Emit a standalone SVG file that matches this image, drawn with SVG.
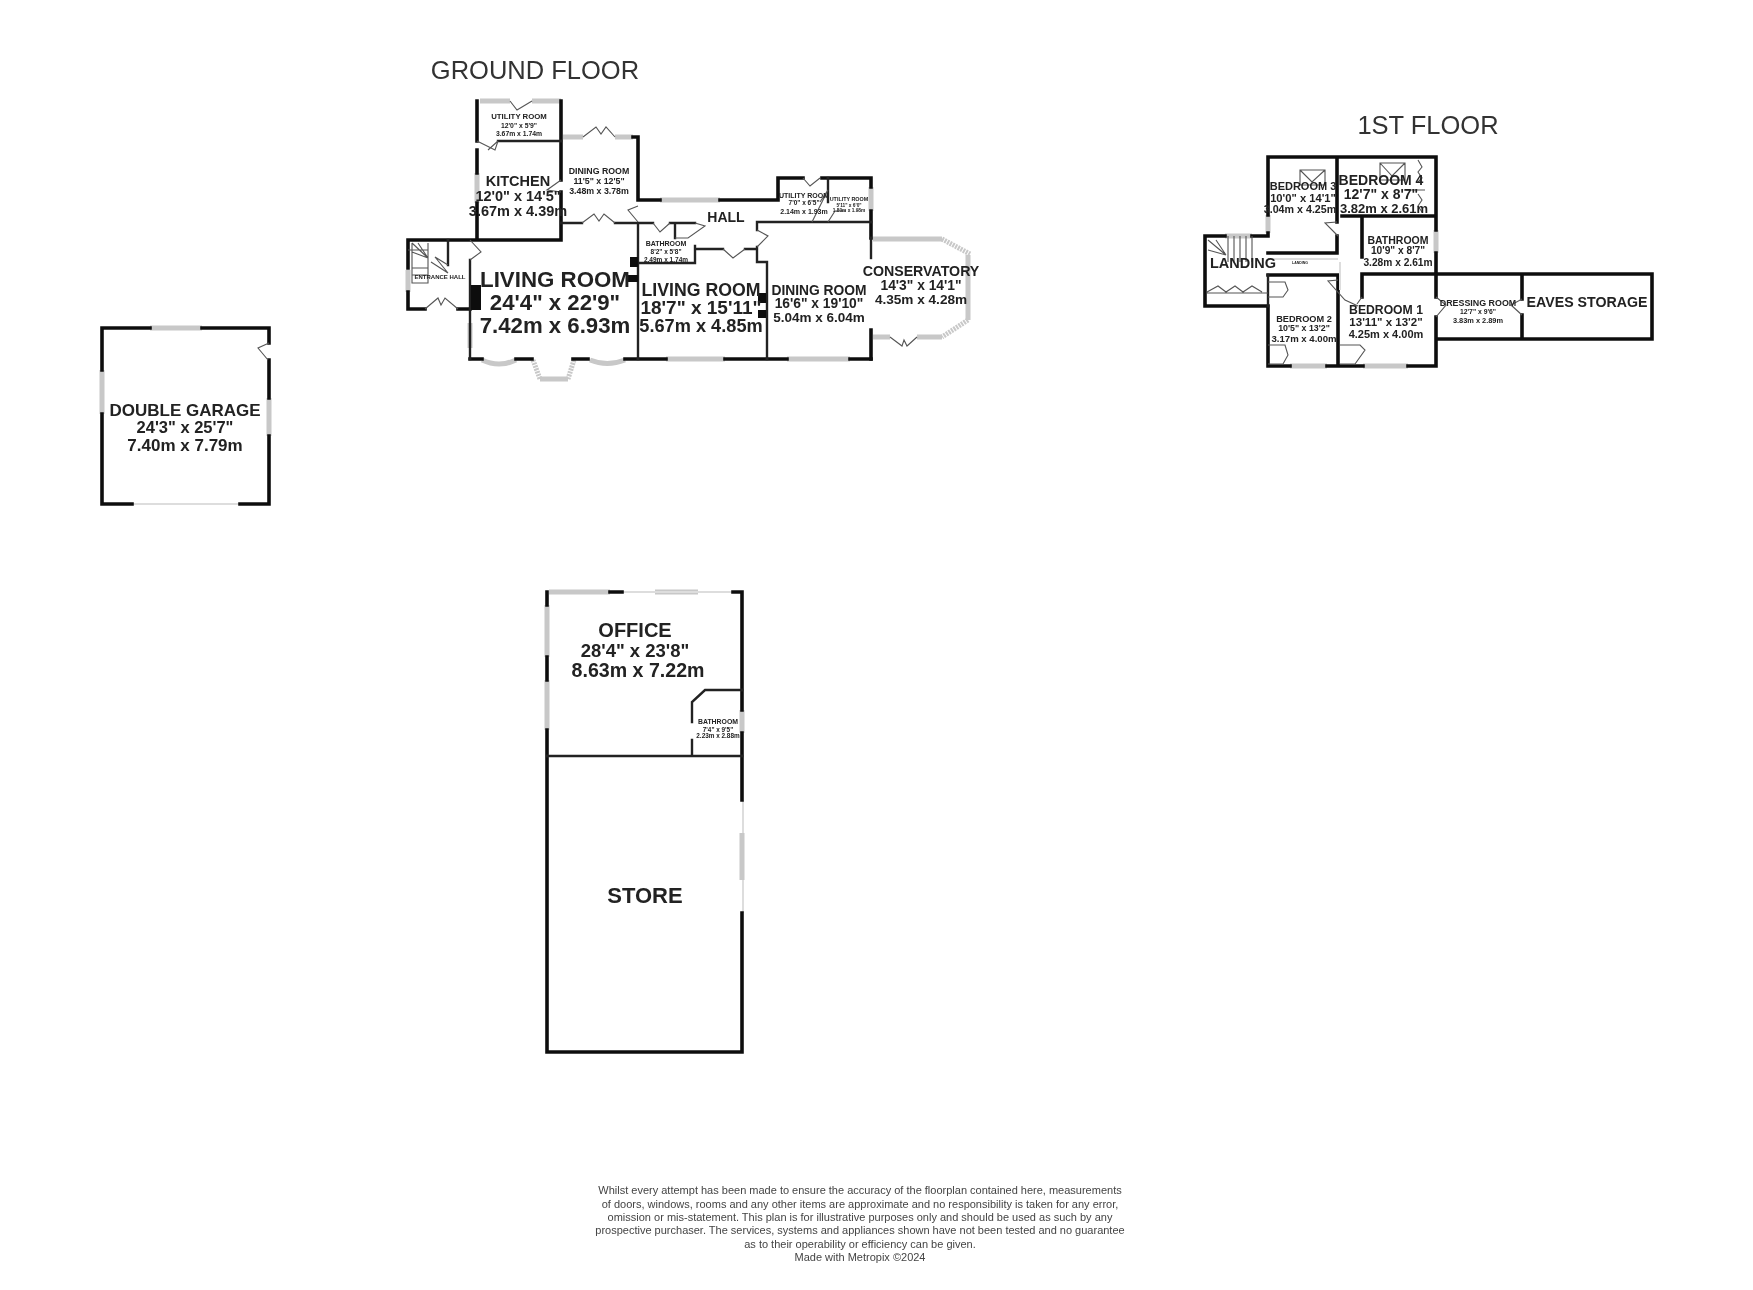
<svg xmlns="http://www.w3.org/2000/svg" width="1753" height="1290" viewBox="0 0 1753 1290">
<style>
text{font-family:"Liberation Sans",Arial,sans-serif;text-anchor:middle;fill:#222;font-weight:bold}
.title{font-weight:normal;font-size:25.5px;fill:#333}
.foot{font-weight:normal;font-size:11px;fill:#444}
.w,.t,.g,.d,.l{fill:none}
.w{stroke:#111;stroke-width:3.6;stroke-linecap:square}
.t{stroke:#222;stroke-width:2.4;stroke-linecap:square}
.g{stroke:#c8c8c8;stroke-width:5}
.l{stroke:#ddd;stroke-width:2}
.d{stroke:#555;stroke-width:1.1}
.k{fill:#111;stroke:none}
</style>
<defs><filter id="soft" x="-2%" y="-2%" width="104%" height="104%"><feGaussianBlur stdDeviation="0.75"/></filter></defs>
<rect width="1753" height="1290" fill="#fff"/>
<g filter="url(#soft)">
<g id="ground-floor">
<text class="title" x="535" y="79">GROUND FLOOR</text>
<path class="g" d="M477 173V203M480 101H510M532 101H561M563 137H583M615 137H633M660 200H720M871 187V211"/>
<path class="g" d="M666 359H725M787 359H850"/>
<path class="g" d="M470 323V348M408 270V292"/>
<path class="g" d="M482 360Q499 368 516 360M590 360Q607 367 625 360M540 379H568"/>
<path class="g" stroke-dasharray="2 1" d="M533 360L540 379M574 360L568 379"/>
<path class="w" d="M477 101V141M477 150V173M477 203V240M408 240H561M561 101V180M561 192V240M561 137V137M408 240V268M408 292V309H425M458 309H470M638 137V200M633 137H638M638 200H660M720 200H778V178H803M822 178H871V187M871 211V238M871 330V359"/>
<path class="w" d="M470 359H482M516 359H532M573 359H588M625 359H666M725 359H787M850 359H871"/>
<path class="t" d="M498 141H561M561 223H582M615 223H653M670 223H695M638 223V359M470 260V359M757 222H871M757 222V230M757 247V262H767V359M695 249H723M745 249H757M638 263H695V246M675 223V238M448 240V265M828 178V202"/>
<path class="t" d="M871 238V258"/>
<path class="k" d="M471 285H481V310H471ZM630 257H638V267H630ZM628 275H638V282H628ZM758 293H766V303H758ZM758 310H766V318H758Z"/>
<path class="g" d="M873 239H942M968 255V320M873 337H890M917 337H942"/>
<path class="g" stroke-dasharray="2 1" d="M942 239L970 254M968 320L942 337"/>
<path class="d" d="M583 137L596 127L601 134L606 127L615 137M582 223L594 214L599 221L604 214L615 223M425 309L438 298L441 305L445 298L458 309M890 337L902 346L904 340L907 346L917 337M510 101L517 110L532 101M477 141L495 150L498 141M561 180L547 190L561 192M638 206L628 210L638 222M653 223L660 232L670 223M723 249L733 258L745 249M757 230L768 236L757 247M803 178L810 186L820 178M820 202L828 190L812 222M828 222L835 211H846M675 238H688L705 226L695 223M470 240L481 252L470 260M448 265L435 257L448 273L431 262M498 141L488 150M408 250H428M412 268H428M412 275H428M412 283H428M428 243V283H412V243M412 243L428 258L418 243M428 258L412 252"/>
<text x="519" y="119" font-size="7.8">UTILITY ROOM</text>
<text x="519" y="128" font-size="6.8">12'0" x 5'9"</text>
<text x="519" y="136" font-size="6.8">3.67m x 1.74m</text>
<text x="518" y="186" font-size="14.5">KITCHEN</text>
<text x="518" y="201" font-size="14.5">12'0" x 14'5"</text>
<text x="518" y="216" font-size="14.5">3.67m x 4.39m</text>
<text x="599" y="174" font-size="8.8">DINING ROOM</text>
<text x="599" y="184" font-size="8.8">11'5" x 12'5"</text>
<text x="599" y="194" font-size="8.8">3.48m x 3.78m</text>
<text x="555" y="287" font-size="22.3">LIVING ROOM</text>
<text x="555" y="310" font-size="22.2">24'4" x 22'9"</text>
<text x="555" y="333" font-size="22.2">7.42m x 6.93m</text>
<text x="440" y="279" font-size="6">ENTRANCE HALL</text>
<text x="701" y="296" font-size="17.7">LIVING ROOM</text>
<text x="701" y="314" font-size="19">18'7" x 15'11"</text>
<text x="701" y="332" font-size="18.2">5.67m x 4.85m</text>
<text x="666" y="246" font-size="7">BATHROOM</text>
<text x="666" y="254" font-size="6.5">8'2" x 5'8"</text>
<text x="666" y="262" font-size="6.5">2.49m x 1.74m</text>
<text x="726" y="222" font-size="14">HALL</text>
<text x="804" y="198" font-size="7">UTILITY ROOM</text>
<text x="804" y="205" font-size="6.5">7'0" x 6'5"</text>
<text x="804" y="214" font-size="7">2.14m x 1.93m</text>
<text x="849" y="201" font-size="5.4">UTILITY ROOM</text>
<text x="849" y="207" font-size="4.8">5'11" x 6'0"</text>
<text x="849" y="212" font-size="4.8">1.80m x 1.98m</text>
<text x="819" y="295" font-size="13.8">DINING ROOM</text>
<text x="819" y="308" font-size="13.8">16'6" x 19'10"</text>
<text x="819" y="322" font-size="13.5">5.04m x 6.04m</text>
<text x="921" y="276" font-size="14.2">CONSERVATORY</text>
<text x="921" y="290" font-size="13.8">14'3" x 14'1"</text>
<text x="921" y="304" font-size="13.6">4.35m x 4.28m</text>
</g>
<g id="first-floor">
<text class="title" x="1428" y="134">1ST FLOOR</text>
<path class="g" d="M1268 215V233M1225 236H1252M1436 230V253M1290 366H1327M1363 366H1408"/>
<path class="w" d="M1268 215V157H1436V230M1436 253V297M1436 317V366H1408M1363 366H1327M1290 366H1268V306H1205V236H1225M1252 236H1268V233M1337 157V222M1337 236V253H1268M1268 275H1338V366M1342 216H1436M1362 216V257M1362 274V297M1362 274H1652V339H1436M1522 274V299M1522 315V339"/>
<path class="t" d="M1268 275V306"/>
<path class="l" d="M1340 262V290M1268 259H1338"/>
<path class="d" d="M1300 170H1325V185H1300ZM1300 170L1312 182L1325 170M1380 163H1405V180H1380ZM1380 163L1392 176L1405 163M1418 160L1422 167L1418 172L1422 178L1418 182M1418 194L1422 200L1418 206L1422 212M1337 222L1325 223L1338 236M1338 280L1328 281L1345 300L1358 306M1362 297L1357 304M1436 297L1446 305L1436 317M1522 299L1511 305L1522 315M1207 292L1218 286L1226 292L1235 286L1243 292L1252 286L1262 292M1268 282H1285L1288 290L1283 297H1268M1268 345H1285L1288 355L1283 364H1268M1340 345H1360L1365 350L1355 364H1340M1207 293H1268M1228 236V262M1234 236V262M1240 236V262M1246 236V262M1252 236V262M1208 240L1226 255M1208 250L1226 255M1216 240L1226 255M1406 190H1425"/>
<text x="1303" y="190" font-size="11">BEDROOM 3</text>
<text x="1303" y="202" font-size="11.2">10'0" x 14'1"</text>
<text x="1300" y="213" font-size="10.7">3.04m x 4.25m</text>
<text x="1381" y="185" font-size="14">BEDROOM 4</text>
<text x="1381" y="199" font-size="14">12'7" x 8'7"</text>
<text x="1384" y="213" font-size="13">3.82m x 2.61m</text>
<text x="1398" y="244" font-size="10.5">BATHROOM</text>
<text x="1398" y="254" font-size="10.2">10'9" x 8'7"</text>
<text x="1398" y="266" font-size="10.2">3.28m x 2.61m</text>
<text x="1243" y="268" font-size="14.5">LANDING</text>
<text x="1300" y="264" font-size="3.5">LANDING</text>
<text x="1304" y="322" font-size="9.2">BEDROOM 2</text>
<text x="1304" y="331" font-size="8.8">10'5" x 13'2"</text>
<text x="1304" y="342" font-size="9.6">3.17m x 4.00m</text>
<text x="1386" y="314" font-size="12.2">BEDROOM 1</text>
<text x="1386" y="326" font-size="11.5">13'11" x 13'2"</text>
<text x="1386" y="338" font-size="11">4.25m x 4.00m</text>
<text x="1478" y="306" font-size="8.9">DRESSING ROOM</text>
<text x="1478" y="314" font-size="6.8">12'7" x 9'6"</text>
<text x="1478" y="323" font-size="7.4">3.83m x 2.89m</text>
<text x="1587" y="307" font-size="14.2">EAVES STORAGE</text>
</g>
<g id="double-garage">
<path class="g" d="M150 328H202M102 370V414M269 398V436"/>
<path class="l" d="M132 504H240"/>
<path class="w" d="M150 328H102V370M102 414V504H132M240 504H269V436M269 398V360M269 343V328H202"/>
<path class="d" d="M269 343L258 348L268 360"/>
<text x="185" y="416" font-size="17">DOUBLE GARAGE</text>
<text x="185" y="433" font-size="16.5">24'3" x 25'7"</text>
<text x="185" y="451" font-size="17">7.40m x 7.79m</text>
</g>
<g id="office-store">
<path class="g" d="M549 592H610M547 605V657M547 680V730M655 592H698M742 710V733M742 833V880"/>
<path class="l" d="M622 592H733M743 800V833M743 880V913"/>
<path class="w" d="M547 592V605M547 657V680M547 730V1052H742V913M742 800V733M742 710V592H733M610 592H622"/>
<path class="t" d="M547 756H742M692 756V740M692 722V702L705 690H742"/>
<text x="635" y="637" font-size="20">OFFICE</text>
<text x="635" y="657" font-size="18.5">28'4" x 23'8"</text>
<text x="638" y="677" font-size="19.6">8.63m x 7.22m</text>
<text x="718" y="724" font-size="6.9">BATHROOM</text>
<text x="718" y="732" font-size="6.4">7'4" x 9'5"</text>
<text x="718" y="738" font-size="6.4">2.23m x 2.88m</text>
<text x="645" y="903" font-size="22">STORE</text>
</g>
<g id="disclaimer">
<text class="foot" x="860" y="1194">Whilst every attempt has been made to ensure the accuracy of the floorplan contained here, measurements</text>
<text class="foot" x="860" y="1208">of doors, windows, rooms and any other items are approximate and no responsibility is taken for any error,</text>
<text class="foot" x="860" y="1221">omission or mis-statement. This plan is for illustrative purposes only and should be used as such by any</text>
<text class="foot" x="860" y="1234">prospective purchaser. The services, systems and appliances shown have not been tested and no guarantee</text>
<text class="foot" x="860" y="1248">as to their operability or efficiency can be given.</text>
<text class="foot" x="860" y="1261">Made with Metropix ©2024</text>
</g>
</g>
</svg>
